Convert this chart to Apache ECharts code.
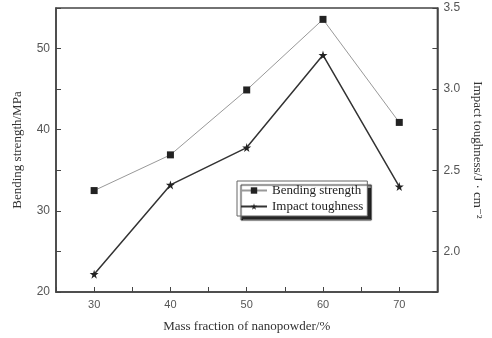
<!DOCTYPE html>
<html><head><meta charset="utf-8">
<script src="https://cdn.jsdelivr.net/npm/echarts@6/dist/echarts.min.js"></script>
<style>html,body{margin:0;padding:0;background:#fff}#c{width:492px;height:338px}</style>
</head><body><div id="c"></div>
<script>
const massFraction = [30, 40, 50, 60, 70];
const bendingStrength = [32.5, 36.9, 44.9, 53.6, 40.9];
const impactToughness = [1.86, 2.41, 2.64, 3.21, 2.40];
const xTickLabels = [30, 40, 50, 60, 70];
const leftTickLabels = [20, 30, 40, 50];
const rightTickLabels = [2.0, 2.5, 3.0, 3.5];

const serif = '"Liberation Serif", "DejaVu Serif", serif';
const sans = '"Liberation Sans", Arial, sans-serif';
const axisColor = '#444';
function near(arr, v){ return arr.some(a => Math.abs(a - v) < 1e-6); }

const chart = echarts.init(document.getElementById('c'), null, {renderer:'canvas'});
chart.setOption({
  backgroundColor: '#fff',
  animation: false,
  grid: {left: 56, right: 50, top: 8, bottom: 43, show: true, borderColor: axisColor, borderWidth: 1.5, backgroundColor: 'transparent'},
  legend: {
    orient: 'vertical', left: 237, top: 181,
    itemWidth: 26, itemHeight: 8, itemGap: 3,
    padding: [3, 4, 3, 3],
    backgroundColor: '#fff', borderColor: '#666', borderWidth: 1,
    shadowColor: 'rgba(0,0,0,0.85)', shadowBlur: 1, shadowOffsetX: 4, shadowOffsetY: 4,
    textStyle: {fontFamily: serif, fontSize: 13, color: '#222'},
    data: ['Bending strength', 'Impact toughness']
  },
  xAxis: {
    type: 'value', min: 25, max: 75, interval: 5,
    name: 'Mass fraction of nanopowder/%', nameLocation: 'middle', nameGap: 28,
    nameTextStyle: {fontFamily: serif, fontSize: 13, color: '#333'},
    axisLine: {lineStyle: {color: axisColor, width: 1.5}},
    axisTick: {inside: true, length: 5, lineStyle: {color: axisColor}},
    axisLabel: {margin: 7, fontFamily: sans, fontSize: 11, color: '#555',
      formatter: v => near(xTickLabels, v) ? String(v) : ''},
    splitLine: {show: false}
  },
  yAxis: [{
    type: 'value', min: 20, max: 55, interval: 5, position: 'left',
    name: 'Bending strength/MPa', nameLocation: 'middle', nameGap: 32, nameRotate: 90,
    nameTextStyle: {fontFamily: serif, fontSize: 13, color: '#333'},
    axisLine: {show: true, lineStyle: {color: axisColor, width: 1.5}},
    axisTick: {show: true, inside: true, length: 5, lineStyle: {color: axisColor}},
    axisLabel: {margin: 6, fontFamily: sans, fontSize: 12, color: '#555',
      formatter: v => near(leftTickLabels, v) ? String(v) : ''},
    splitLine: {show: false}
  }, {
    type: 'value', min: 1.75, max: 3.5, interval: 0.25, position: 'right',
    name: 'Impact toughness/J · cm⁻²', nameLocation: 'middle', nameGap: 32, nameRotate: -90,
    nameTextStyle: {fontFamily: serif, fontSize: 13, color: '#333'},
    axisLine: {show: true, lineStyle: {color: axisColor, width: 1.5}},
    axisTick: {show: true, inside: true, length: 5, lineStyle: {color: axisColor}},
    axisLabel: {margin: 6, fontFamily: sans, fontSize: 12, color: '#555',
      formatter: v => near(rightTickLabels, v) ? v.toFixed(1) : ''},
    splitLine: {show: false}
  }],
  series: [{
    name: 'Bending strength', type: 'line', yAxisIndex: 0,
    data: massFraction.map((x, i) => [x, bendingStrength[i]]),
    symbol: 'rect', symbolSize: 7,
    lineStyle: {color: '#999', width: 1},
    itemStyle: {color: '#222', borderWidth: 0}
  }, {
    name: 'Impact toughness', type: 'line', yAxisIndex: 1,
    data: massFraction.map((x, i) => [x, impactToughness[i]]),
    symbol: 'path://M50,0 L61,35 L98,35 L68,57 L79,91 L50,70 L21,91 L32,57 L2,35 L39,35 Z', symbolSize: 9,
    lineStyle: {color: '#333', width: 1.5},
    itemStyle: {color: '#222', borderWidth: 0}
  }]
});
</script></body></html>
